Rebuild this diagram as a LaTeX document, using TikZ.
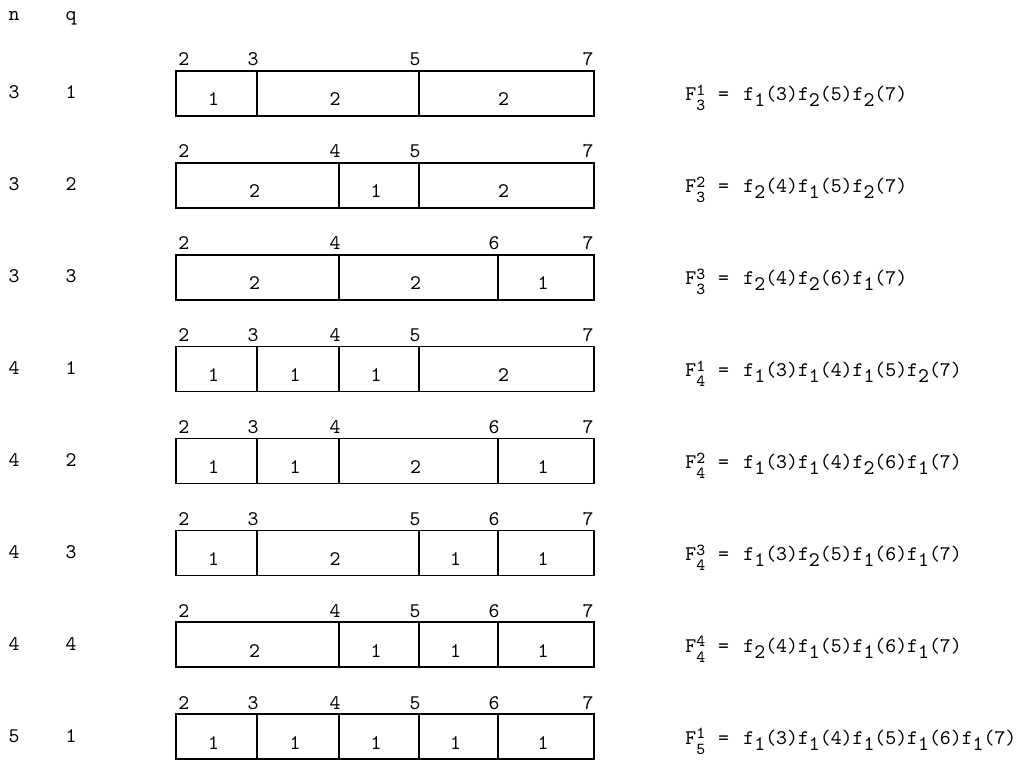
\documentclass[tikz,border=0pt]{standalone}
\usepackage{fontspec}
\setmonofont{Latin Modern Mono}
\newcommand{\scrfont}{\fontsize{8.4}{10}\selectfont}
\newcommand{\Fnq}[2]{F\makebox[0.525em][l]{\rlap{\raisebox{2.6pt}{\scrfont #1}}\raisebox{-5pt}{\scrfont #2}}}
\newcommand{\fk}[2]{f\raisebox{-3pt}{#1}(#2)}
\tikzset{
  lbl/.style={font=\fontsize{10.4}{12}\selectfont\ttfamily, inner sep=0pt, text=black},
  boxline/.style={draw=black, line width=0.8pt},
}
\newcommand{\drawrow}[6]{% #1 row idx, #2 n, #3 q, #4 cells a/b/l, #5 middle ticks, #6 formula
  \pgfmathsetmacro{\T}{71+91.86*#1}
  \node[lbl, anchor=base] (n#1) at (14,\T+28) {#2};
  \node[lbl, anchor=base] (q#1) at (71,\T+28) {#3};
  \foreach \a/\b/\l [count=\c] in {#4} {
    \pgfmathsetmacro{\xa}{{176,257,339,419,498,594}[int(\a-2)]}
    \pgfmathsetmacro{\xb}{{176,257,339,419,498,594}[int(\b-2)]}
    \draw[boxline] (\xa,\T) rectangle (\xb,\T+45);
    \node[lbl, anchor=base] (c#1-\c) at ({(\xa+\xb)/2-3},\T+35) {\l};
  }
  \node[lbl, anchor=base west] (t#1-2) at (178,\T-5) {2};
  \node[lbl, anchor=base east] (t#1-7) at (594,\T-5) {7};
  \foreach \m in {#5} {
    \pgfmathsetmacro{\xm}{{176,257,339,419,498,594}[int(\m-2)]}
    \node[lbl, anchor=base] (t#1-\m) at (\xm-4,\T-5) {\m};
  }
  \node[lbl, anchor=base west] (Fl#1) at (685,\T+30) {#6\ =};
}
\newcommand{\prodrow}[2]{%
  \pgfmathsetmacro{\T}{71+91.86*#1}
  \node[lbl, anchor=base west] (Fr#1) at (743,\T+30) {#2};
}
\begin{document}
\begin{tikzpicture}[x=0.5pt, y=-0.5pt]
\fill[white] (0,0) rectangle (1026,759);
\useasboundingbox (0,0) rectangle (1026,759);
\node[lbl, anchor=base] (hn) at (14,21) {n};
\node[lbl, anchor=base] (hq) at (71,21) {q};
\drawrow{0}{3}{1}{2/3/1,3/5/2,5/7/2}{3,5}{\Fnq{1}{3}}
\drawrow{1}{3}{2}{2/4/2,4/5/1,5/7/2}{4,5}{\Fnq{2}{3}}
\drawrow{2}{3}{3}{2/4/2,4/6/2,6/7/1}{4,6}{\Fnq{3}{3}}
\drawrow{3}{4}{1}{2/3/1,3/4/1,4/5/1,5/7/2}{3,4,5}{\Fnq{1}{4}}
\drawrow{4}{4}{2}{2/3/1,3/4/1,4/6/2,6/7/1}{3,4,6}{\Fnq{2}{4}}
\drawrow{5}{4}{3}{2/3/1,3/5/2,5/6/1,6/7/1}{3,5,6}{\Fnq{3}{4}}
\drawrow{6}{4}{4}{2/4/2,4/5/1,5/6/1,6/7/1}{4,5,6}{\Fnq{4}{4}}
\drawrow{7}{5}{1}{2/3/1,3/4/1,4/5/1,5/6/1,6/7/1}{3,4,5,6}{\Fnq{1}{5}}
\prodrow{0}{\fk{1}{3}\fk{2}{5}\fk{2}{7}}
\prodrow{1}{\fk{2}{4}\fk{1}{5}\fk{2}{7}}
\prodrow{2}{\fk{2}{4}\fk{2}{6}\fk{1}{7}}
\prodrow{3}{\fk{1}{3}\fk{1}{4}\fk{1}{5}\fk{2}{7}}
\prodrow{4}{\fk{1}{3}\fk{1}{4}\fk{2}{6}\fk{1}{7}}
\prodrow{5}{\fk{1}{3}\fk{2}{5}\fk{1}{6}\fk{1}{7}}
\prodrow{6}{\fk{2}{4}\fk{1}{5}\fk{1}{6}\fk{1}{7}}
\prodrow{7}{\fk{1}{3}\fk{1}{4}\fk{1}{5}\fk{1}{6}\fk{1}{7}}
\end{tikzpicture}
\end{document}
